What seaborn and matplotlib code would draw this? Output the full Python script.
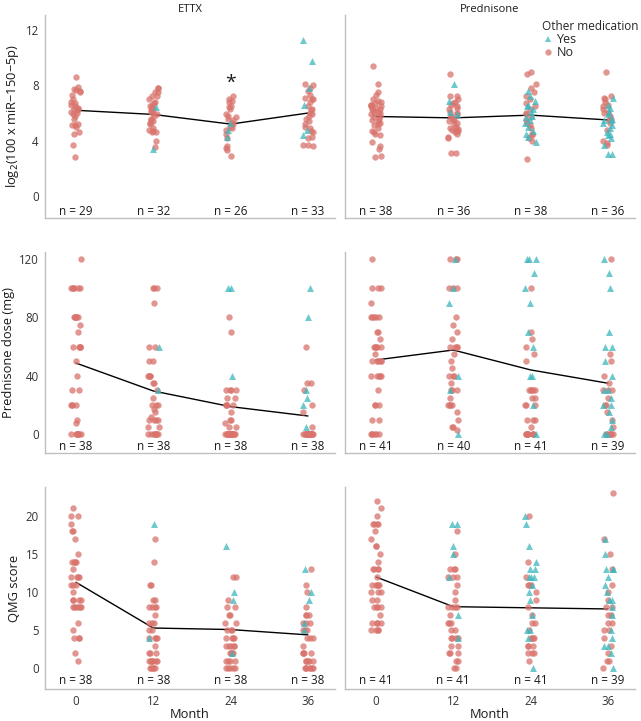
import numpy as np
import pandas as pd
import matplotlib.pyplot as plt
import seaborn as sns
from matplotlib.lines import Line2D

# Months on the x axis
months = [0, 12, 24, 36]
treatments = ['ETTX', 'Prednisone']

# miR-150-5p (log2), one list per month
mir_ettx_no = [
    [8.6, 7.9, 7.75, 7.7, 7.6, 7.5, 7.3, 7.0, 6.8, 6.7, 6.6, 6.5, 6.4, 6.3, 6.3, 6.2, 6.1, 6.0, 5.9, 5.8, 5.6, 5.2, 5.15, 5.1, 5.0, 4.6, 4.5, 3.7, 2.85],
    [7.85, 7.8, 7.55, 7.5, 7.25, 7.2, 7.0, 6.8, 6.7, 6.6, 6.5, 6.4, 6.3, 6.2, 6.1, 6.0, 5.9, 5.8, 5.6, 5.5, 5.4, 5.25, 5.2, 4.9, 4.8, 4.7, 4.65, 4.6, 3.95, 3.55],
    [7.2, 7.0, 6.9, 6.8, 6.5, 6.45, 6.3, 5.9, 5.8, 5.75, 5.6, 5.5, 5.3, 5.2, 5.0, 4.9, 4.8, 4.5, 4.2, 3.6, 3.5, 3.3, 2.9],
    [8.1, 8.0, 7.8, 7.6, 7.3, 7.1, 7.0, 7.0, 6.8, 6.5, 6.3, 6.2, 6.0, 5.9, 5.8, 5.6, 5.4, 5.2, 5.0, 4.9, 4.7, 4.6, 4.3, 4.2, 3.7, 3.7, 3.65],
]
mir_ettx_yes = [[], [6.45, 3.4], [5.3, 4.8, 4.3], [11.3, 9.8, 7.8, 6.6, 4.8, 4.4]]
mir_pred_no = [
    [9.4, 8.1, 7.5, 7.3, 7.0, 6.9, 6.8, 6.7, 6.6, 6.6, 6.5, 6.5, 6.4, 6.3, 6.3, 6.2, 6.1, 6.0, 6.0, 5.9, 5.8, 5.7, 5.6, 5.5, 5.4, 5.3, 5.2, 5.1, 4.9, 4.7, 4.6, 4.5, 4.4, 3.9, 3.6, 3.4, 2.9, 2.8],
    [8.8, 7.2, 7.2, 7.0, 6.8, 6.7, 6.6, 6.5, 6.4, 6.3, 6.1, 6.0, 5.9, 5.8, 5.7, 5.6, 5.5, 5.4, 5.3, 5.2, 5.0, 4.9, 4.85, 4.8, 4.8, 4.7, 4.6, 4.5, 4.3, 4.2, 3.1, 3.1],
    [9.0, 8.8, 8.1, 7.8, 7.5, 7.2, 7.0, 6.7, 6.5, 6.3, 6.0, 5.9, 5.7, 5.5, 5.3, 5.1, 4.9, 4.5, 4.4, 4.2, 4.0, 2.7],
    [9.0, 7.2, 7.1, 7.0, 6.8, 6.6, 6.5, 6.3, 6.1, 6.0, 5.8, 5.6, 5.5, 5.3, 4.8, 4.0, 3.8, 3.7],
]
mir_pred_yes = [
    [],
    [8.1, 6.85, 6.1, 5.9],
    [7.6, 7.2, 6.9, 6.6, 6.5, 6.3, 6.1, 5.8, 5.7, 5.5, 5.3, 5.0, 4.7, 4.5, 4.3, 3.9],
    [7.1, 6.6, 6.4, 6.1, 5.9, 5.6, 5.5, 5.5, 5.3, 5.1, 4.9, 4.6, 4.5, 4.4, 4.2, 3.7, 3.0, 3.0],
]

# Prednisone dose (mg)
dose_ettx_no = [
    [120, 100, 100, 100, 100, 100, 100, 80, 80, 80, 80, 80, 80, 75, 70, 60, 60, 60, 60, 60, 50, 40, 30, 30, 20, 20, 20, 20, 10, 8, 0, 0, 0, 0, 0, 0, 0, 0],
    [100, 100, 100, 90, 60, 60, 50, 50, 40, 40, 40, 40, 35, 35, 30, 25, 20, 20, 20, 17, 15, 12, 10, 10, 10, 10, 5, 5, 0, 0, 0, 0, 0, 0, 0, 0],
    [80, 70, 30, 30, 30, 30, 25, 25, 20, 20, 20, 20, 15, 10, 10, 8, 5, 5, 0, 0, 0, 0, 0, 0, 0, 0, 0, 0, 0, 0, 0, 0, 0, 0, 0],
    [60, 35, 35, 30, 20, 15, 5, 0, 0, 0, 0, 0, 0, 0, 0, 0, 0, 0, 0, 0, 0, 0, 0, 0, 0, 0, 0, 0, 0, 0, 0, 0],
]
dose_ettx_yes = [[], [60, 30], [100, 100, 40], [100, 80, 30, 25, 20, 5]]
dose_pred_no = [
    [120, 100, 100, 100, 90, 80, 80, 80, 80, 80, 70, 70, 65, 60, 60, 60, 60, 60, 55, 50, 50, 50, 50, 50, 40, 40, 40, 40, 40, 30, 20, 20, 20, 10, 10, 0, 0, 0, 0, 0, 0],
    [120, 120, 120, 100, 100, 100, 80, 75, 70, 65, 60, 60, 60, 60, 55, 50, 45, 40, 40, 40, 35, 30, 30, 30, 25, 20, 20, 20, 20, 15, 10, 5, 5, 3],
    [100, 70, 65, 60, 55, 50, 30, 30, 30, 30, 30, 25, 25, 20, 20, 20, 10, 10, 10, 5, 0, 0, 0, 0, 0, 0, 0, 0, 0],
    [120, 55, 50, 40, 35, 30, 30, 30, 25, 20, 20, 15, 10, 5, 0, 0, 0, 0, 0, 0, 0],
]
dose_pred_yes = [
    [],
    [120, 100, 90, 40, 30, 0],
    [120, 120, 120, 110, 100, 90, 70, 60, 40, 40, 20, 0],
    [120, 110, 100, 70, 60, 60, 50, 40, 30, 30, 25, 20, 20, 15, 10, 5, 0, 0],
]

# QMG score
qmg_ettx_no = [
    [21, 20, 20, 19, 18, 18, 17, 15, 14, 14, 14, 14, 13, 12, 12, 12, 12, 11, 11, 11, 10, 9, 9, 9, 9, 8, 8, 8, 8, 8, 8, 6, 5, 4, 4, 4, 2, 1],
    [17, 14, 11, 11, 9, 9, 8, 8, 8, 8, 7, 6, 6, 6, 5, 5, 4, 4, 4, 4, 3, 2, 2, 2, 1, 1, 1, 1, 1, 1, 1, 0, 0, 0, 0, 0],
    [12, 12, 9, 8, 8, 7, 7, 6, 6, 5, 5, 5, 4, 4, 4, 4, 3, 3, 3, 3, 3, 2, 2, 2, 2, 1, 1, 1, 1, 0, 0, 0, 0, 0],
    [13, 11, 10, 8, 7, 7, 7, 6, 6, 6, 5, 5, 5, 4, 4, 4, 3, 2, 2, 2, 2, 1, 1, 1, 1, 1, 0, 0, 0, 0, 0, 0, 0],
]
qmg_ettx_yes = [[], [19, 4], [16, 10, 9, 2], [13, 10, 9, 6, 5]]
qmg_pred_no = [
    [22, 21, 20, 19, 19, 19, 19, 18, 17, 16, 16, 15, 14, 13, 13, 13, 13, 12, 11, 11, 11, 11, 11, 10, 10, 10, 9, 9, 8, 8, 8, 8, 7, 6, 6, 6, 6, 5, 5, 5, 5],
    [18, 15, 13, 13, 13, 12, 12, 12, 11, 10, 9, 8, 8, 8, 8, 7, 6, 6, 6, 5, 5, 4, 4, 4, 4, 3, 3, 2, 2, 2, 1, 1, 0, 0],
    [20, 14, 12, 11, 11, 11, 10, 9, 8, 7, 6, 6, 5, 4, 4, 4, 4, 3, 3, 3, 2, 2, 2, 1],
    [23, 17, 15, 13, 11, 10, 9, 8, 8, 7, 7, 6, 6, 5, 5, 4, 3, 2, 1, 1, 0],
]
qmg_pred_yes = [
    [],
    [19, 19, 16, 15, 12, 7, 4],
    [20, 19, 16, 14, 13, 13, 12, 12, 12, 11, 10, 9, 7, 5, 5, 4, 0],
    [17, 15, 13, 13, 13, 12, 11, 10, 9, 9, 8, 7, 5, 4, 3, 3, 2, 0],
]

# group means (black lines) and n labels
mir_means = {'ETTX': [6.2, 5.9, 5.2, 6.0], 'Prednisone': [5.75, 5.65, 5.85, 5.5]}
dose_means = {'ETTX': [48.7, 29.6, 18.9, 12.5], 'Prednisone': [50.8, 57.6, 44.0, 34.9]}
qmg_means = {'ETTX': [11.3, 5.3, 5.1, 4.4], 'Prednisone': [12.0, 8.1, 7.95, 7.8]}
mir_n = {'ETTX': [29, 32, 26, 33], 'Prednisone': [38, 36, 38, 36]}
dose_n = {'ETTX': [38, 38, 38, 38], 'Prednisone': [41, 40, 41, 39]}
qmg_n = {'ETTX': [38, 38, 38, 38], 'Prednisone': [41, 41, 41, 39]}


def to_frame(no_lists, yes_lists):
    rows = []
    for m, no, yes in zip(months, no_lists, yes_lists):
        rows += [(m, v, 'No') for v in no]
        rows += [(m, v, 'Yes') for v in yes]
    return pd.DataFrame(rows, columns=['month', 'value', 'med'])


panels = [
    ('log$_2$(100 x miR\u2212150\u22125p)', {'ETTX': to_frame(mir_ettx_no, mir_ettx_yes), 'Prednisone': to_frame(mir_pred_no, mir_pred_yes)},
     mir_means, mir_n, (-1.6, 13.1), [0, 4, 8, 12], -1.15),
    ('Prednisone dose (mg)', {'ETTX': to_frame(dose_ettx_no, dose_ettx_yes), 'Prednisone': to_frame(dose_pred_no, dose_pred_yes)},
     dose_means, dose_n, (-12.8, 124.6), [0, 40, 80, 120], -8.2),
    ('QMG score', {'ETTX': to_frame(qmg_ettx_no, qmg_ettx_yes), 'Prednisone': to_frame(qmg_pred_no, qmg_pred_yes)},
     qmg_means, qmg_n, (-2.7, 23.8), [0, 5, 10, 15, 20], -1.55),
]

sns.set_theme(style='white')
plt.rcParams['font.family'] = ['Open Sans', 'DejaVu Sans']

red = '#D9736C'
teal = '#3CB8BE'
grey = '#BFBFBF'
np.random.seed(3)

fig = plt.figure(figsize=(6.41, 7.21), dpi=100)
W, H = 641, 721
col_x = [45, 345]
row_y = [(15, 218), (252, 453), (487, 689)]

for r, (ylabel, frames, means, ns, ylim, yticks, ny) in enumerate(panels):
    top, bot = row_y[r]
    for c, tr in enumerate(treatments):
        ax = fig.add_axes([col_x[c] / W, 1 - bot / H, 290 / W, (bot - top) / H])
        df = frames[tr]
        sns.stripplot(data=df[df.med == 'No'], x='month', y='value', native_scale=True,
                      jitter=0.07, color=red, alpha=0.75, size=4.6, linewidth=0, marker='o', ax=ax)
        sns.stripplot(data=df[df.med == 'Yes'], x='month', y='value', native_scale=True,
                      jitter=0.07, color=teal, alpha=0.75, size=5.0, linewidth=0, marker='^', ax=ax)
        sns.lineplot(x=months, y=means[tr], color='black', linewidth=1, ax=ax)
        for m, n in zip(months, ns[tr]):
            ax.text(m, ny, f'n = {n}', ha='center', va='center', fontsize=8.5, color='#1a1a1a')
        ax.set_xlim(-4.8, 40.2)
        ax.set_ylim(*ylim)
        ax.set_yticks(yticks)
        ax.set_xticks(months)
        for s in ['top', 'right']:
            ax.spines[s].set_visible(False)
        for s in ['left', 'bottom']:
            ax.spines[s].set_color(grey)
            ax.spines[s].set_linewidth(1)
        ax.tick_params(axis='both', colors=grey, labelcolor='#333333', labelsize=8.3,
                       length=2.5, width=0.8, pad=2)
        ax.set_xlabel('')
        ax.set_ylabel('')
        if c == 0:
            ax.set_ylabel(ylabel, fontsize=9.3, color='#1a1a1a', labelpad=3)
        else:
            ax.tick_params(axis='y', left=False, labelleft=False)
        if r < 2:
            ax.tick_params(axis='x', bottom=False, labelbottom=False)
        else:
            ax.set_xlabel('Month', fontsize=9.3, color='#1a1a1a', labelpad=0)
        if r == 0:
            ax.set_title(tr, fontsize=8, color='#1a1a1a', pad=2)
            if tr == 'ETTX':
                ax.text(24, 8.2, '*', ha='center', va='center', fontsize=14, color='#1a1a1a')

handles = [
    Line2D([], [], marker='^', linestyle='', color=teal, alpha=0.75, markersize=4.5, markeredgewidth=0),
    Line2D([], [], marker='o', linestyle='', color=red, alpha=0.75, markersize=4.5, markeredgewidth=0),
]
leg = fig.legend(handles, ['Yes', 'No'], title='Other medication', loc='upper left',
                 bbox_to_anchor=(542 / W, 1 - 20 / H), frameon=False, fontsize=9,
                 title_fontsize=8.5, handletextpad=0.2, labelspacing=0.0,
                 borderpad=0, handlelength=1.0, borderaxespad=0)
leg._legend_box.align = 'left'

fig.savefig('out.png', dpi=100)
